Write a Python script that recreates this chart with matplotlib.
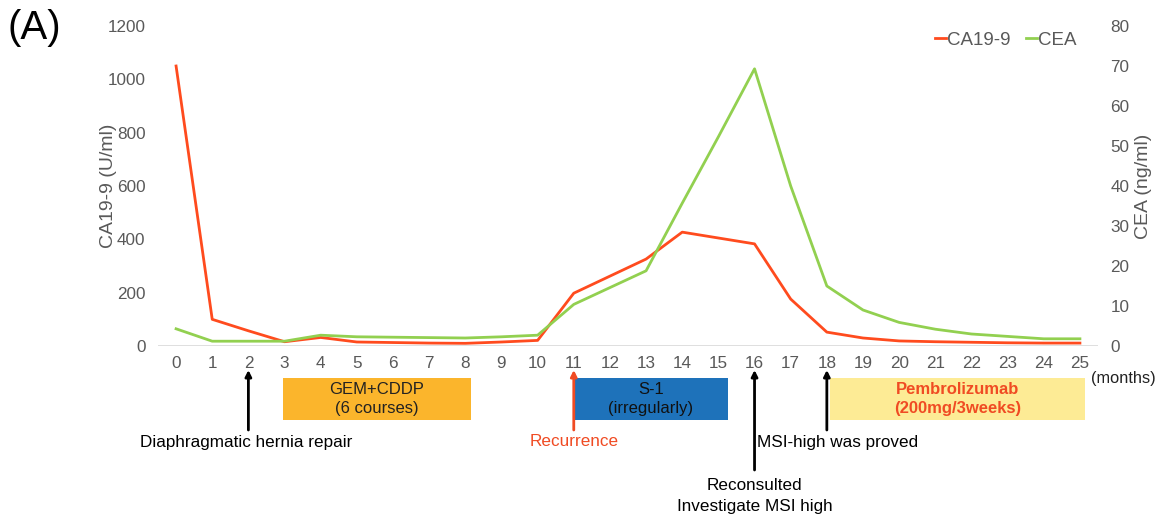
import matplotlib.pyplot as plt
from matplotlib.patches import Rectangle

plt.rcParams['font.family'] = ['Liberation Sans', 'DejaVu Sans']

months = list(range(26))
ca199 = [1050, 100, 57, 16, 32, 15, 13, 11, 10, 15, 21, 198, 262, 326, 427, 405, 383,
         176, 52, 30, 19, 16, 14, 12, 11, 11]
cea = [4.3, 1.2, 1.2, 1.2, 2.7, 2.3, 2.2, 2.1, 2.0, 2.3, 2.7, 10.4, 14.6, 18.8, 35.7,
       52.3, 69.3, 40.0, 15.0, 9.0, 5.9, 4.2, 3.0, 2.4, 1.8, 1.8]

# treatments: (label, start, end, face, text colour, bold)
treatments = [
    ("GEM+CDDP\n(6 courses)", 2.95, 8.15, "#FBB52C", "#222222", False),
    ("S-1\n(irregularly)", 11.0, 15.27, "#1E72BA", "#111111", False),
    ("Pembrolizumab\n(200mg/3weeks)", 18.1, 25.15, "#FDEB95", "#F04B23", True),
]
# events: (label, month, arrow tail pixel y, text x month, text pixel y, colour)
events = [
    ("Diaphragmatic hernia repair", 2, 430, 1.95, 442, "black"),
    ("Recurrence", 11, 430, 11.0, 442, "#F04B23"),
    ("Reconsulted\nInvestigate MSI high", 16, 470, 16.0, 496, "black"),
    ("MSI-high was proved", 18, 430, 18.3, 442, "black"),
]

red = "#FF4B1E"
green = "#92D050"
grey = "#595959"

fig = plt.figure(figsize=(11.71, 5.17), dpi=100)
ax = fig.add_axes([158 / 1171, 1 - 346 / 517, 940 / 1171, 320 / 517])
ax2 = ax.twinx()

l1, = ax.plot(months, ca199, color=red, lw=2, label="CA19-9")
l2, = ax2.plot(months, cea, color=green, lw=2, label="CEA")

ax.set_xlim(-0.5, 25.5)
ax.set_ylim(0, 1200)
ax2.set_ylim(0, 80)
ax.set_yticks(range(0, 1201, 200))
ax2.set_yticks(range(0, 81, 10))
ax.set_xticks(months)
for a in (ax, ax2):
    for s in a.spines.values():
        s.set_visible(False)
    a.tick_params(length=0, labelsize=12.3, colors=grey)
ax.tick_params(axis="x", pad=7)
ax.tick_params(axis="y", pad=9)
ax2.tick_params(axis="y", pad=9)
ax.axhline(0, color="#D9D9D9", lw=1.2, zorder=0)
ax.set_ylabel("CA19-9 (U/ml)", fontsize=14, color=grey, labelpad=-7)
ax2.set_ylabel("CEA (ng/ml)", fontsize=14, color=grey, labelpad=4)

ax2.legend(handles=[l1, l2], loc="upper right", bbox_to_anchor=(0.995, 1.035), ncol=2,
           frameon=False, fontsize=13.5, handlelength=0.6, handletextpad=0.05,
           columnspacing=0.8, labelcolor=grey)

fig.text(8 / 1171, 1 - 28 / 517, "(A)", fontsize=29, va="center", ha="left")


def fy(py):
    return (346 - py) / 320


tr = ax.get_xaxis_transform()
for label, x0, x1, face, tc, bold in treatments:
    ax.add_patch(Rectangle((x0, fy(420)), x1 - x0, fy(378) - fy(420), transform=tr,
                           facecolor=face, edgecolor="none", clip_on=False))
    ax.text((x0 + x1) / 2, fy(399), label, transform=tr, ha="center", va="center",
            fontsize=12, color=tc, fontweight="bold" if bold else "normal",
            linespacing=1.3)

for label, m, tail, tx, ty, c in events:
    ax.annotate("", xy=(m, fy(370)), xytext=(m, fy(tail)), xycoords=tr, textcoords=tr,
                arrowprops=dict(arrowstyle="-|>", color=c, lw=2, mutation_scale=9,
                                shrinkA=0, shrinkB=0))
    ax.text(tx, fy(ty), label, transform=tr, ha="center", va="center", fontsize=12.3,
            color=c, linespacing=1.5)

ax.text(25.3, fy(379), "(months)", transform=tr, ha="left", va="center", fontsize=11.8,
        color="#222222")

fig.savefig("out.png", dpi=100)
